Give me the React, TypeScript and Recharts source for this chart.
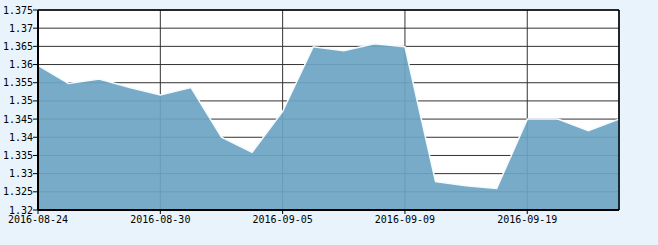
import * as React from "react"
import { Area, AreaChart, CartesianGrid, ReferenceLine, XAxis, YAxis } from "recharts"

const dates = [
  "2016-08-24", "2016-08-25", "2016-08-26", "2016-08-29", "2016-08-30",
  "2016-08-31", "2016-09-01", "2016-09-02", "2016-09-05", "2016-09-06",
  "2016-09-07", "2016-09-08", "2016-09-09", "2016-09-12", "2016-09-13",
  "2016-09-14", "2016-09-19", "2016-09-20", "2016-09-21", "2016-09-22",
]

const values = [
  1.3598, 1.3548, 1.356, 1.3537, 1.3516,
  1.3537, 1.34, 1.3359, 1.3471, 1.3649,
  1.3638, 1.3657, 1.3649, 1.3278, 1.3267,
  1.3259, 1.345, 1.345, 1.3418, 1.345,
]

const xTicks = ["2016-08-24", "2016-08-30", "2016-09-05", "2016-09-09", "2016-09-19"]
const yTicks = [1.32, 1.325, 1.33, 1.335, 1.34, 1.345, 1.35, 1.355, 1.36, 1.365, 1.37, 1.375]

const data = dates.map((d, i) => ({ date: d, value: values[i] }))

const tickStyle = {
  fontFamily: "'DejaVu Sans Mono', 'Liberation Mono', monospace",
  fontSize: 10,
  fill: "#000",
}

export default function App() {
  return (
    <div style={{ position: "fixed", left: 0, top: 0, width: 658, height: 245, background: "#e8f3fb" }}>
      <AreaChart
        width={658}
        height={245}
        data={data}
        margin={{ top: 10, right: 39, left: 0, bottom: 0 }}
      >
        <CartesianGrid stroke="#333" fill="#fff" strokeOpacity={1} />
        <XAxis
          dataKey="date"
          ticks={xTicks}
          interval={0}
          height={35}
          tickSize={4}
          tickMargin={2}
          axisLine={{ stroke: "#000", strokeWidth: 2 }}
          tickLine={{ stroke: "#000" }}
          tick={tickStyle}
        />
        <YAxis
          domain={[1.32, 1.375]}
          ticks={yTicks}
          interval={0}
          width={38}
          tickSize={5}
          tickMargin={0}
          axisLine={{ stroke: "#000", strokeWidth: 2 }}
          tickLine={{ stroke: "#000" }}
          tick={tickStyle}
        />
        <Area
          type="linear"
          dataKey="value"
          baseValue={1.32}
          stroke="#f4fbff"
          strokeWidth={1.5}
          fill="rgb(109,164,196)"
          fillOpacity={0.925}
          isAnimationActive={false}
        />
        <ReferenceLine y={1.375} stroke="#000" strokeWidth={1.5} />
        <ReferenceLine x="2016-09-22" stroke="#000" strokeWidth={1.5} />
      </AreaChart>
    </div>
  )
}
